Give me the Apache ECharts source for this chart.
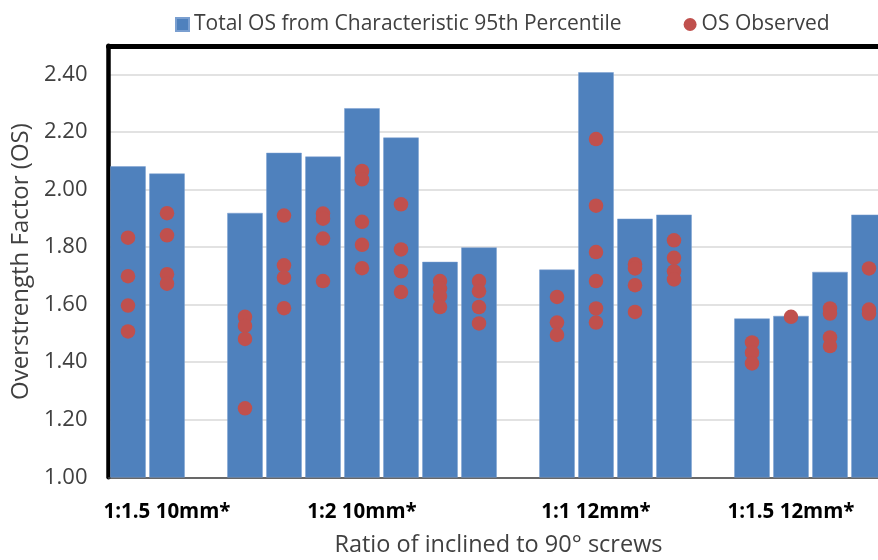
<!DOCTYPE html>
<html>
<head>
<meta charset="utf-8">
<script src="https://cdn.jsdelivr.net/npm/echarts@6/dist/echarts.min.js"></script>
<style>html,body{margin:0;padding:0;background:#fff}#c{width:878px;height:560px}</style>
</head>
<body>
<div id="c"></div>
<script>
// 20 category slots; null = empty gap slot between groups
const groupLabels = ['1:1.5 10mm*', '1:2 10mm*', '1:1 12mm*', '1:1.5 12mm*'];
const labelSlots = [1, 6, 12, 17];
const barValues = [2.081, 2.056, null, 1.919, 2.128, 2.115, 2.283, 2.181, 1.749, 1.799,
                   null, 1.722, 2.408, 1.899, 1.913, null, 1.552, 1.561, 1.714, 1.913];
const observed = [
  [1.833, 1.699, 1.597, 1.507],
  [1.918, 1.841, 1.706, 1.673],
  [],
  [1.558, 1.526, 1.481, 1.240],
  [1.910, 1.737, 1.694, 1.588],
  [1.917, 1.899, 1.830, 1.682],
  [2.065, 2.036, 1.888, 1.808, 1.727],
  [1.949, 1.792, 1.716, 1.644],
  [1.682, 1.656, 1.630, 1.592],
  [1.682, 1.647, 1.592, 1.535],
  [],
  [1.627, 1.538, 1.495],
  [2.176, 1.944, 1.783, 1.682, 1.587, 1.538],
  [1.741, 1.726, 1.668, 1.575],
  [1.824, 1.763, 1.716, 1.688],
  [],
  [1.469, 1.433, 1.396],
  [1.558],
  [1.587, 1.569, 1.486, 1.456],
  [1.726, 1.583, 1.569]
];
const yTicks = { min: 1.0, max: 2.5, interval: 0.2 };

const categories = barValues.map((v, i) => {
  const k = labelSlots.indexOf(i);
  return k >= 0 ? groupLabels[k] : '';
});
const scatterData = [];
observed.forEach((arr, i) => arr.forEach(v => scatterData.push([i, v])));

const font = '"Open Sans", Lato, sans-serif';
const chart = echarts.init(document.getElementById('c'));
chart.setOption({
  animation: false,
  textStyle: { fontFamily: font },
  legend: {
    left: 170, top: 9, itemWidth: 13, itemHeight: 13, itemGap: 62,
    textStyle: { fontSize: 21, color: '#404040', fontFamily: font },
    data: [
      { name: 'Total OS from Characteristic 95th Percentile', icon: 'rect' },
      { name: 'OS Observed', icon: 'circle' }
    ]
  },
  grid: { left: 108.5, top: 45.8, width: 780, height: 431.5, outerBoundsMode: 'none', containLabel: false },
  xAxis: [{
    type: 'category', data: categories, boundaryGap: true,
    axisLine: { lineStyle: { color: '#404040', width: 1.5 } },
    axisTick: { show: false },
    axisLabel: { interval: 0, margin: 24, fontSize: 20.5, fontWeight: 'bold', color: '#000', fontFamily: font },
    name: 'Ratio of inclined to 90° screws', nameLocation: 'middle', nameGap: 56,
    nameTextStyle: { fontSize: 23.5, color: '#404040', fontFamily: font }
  }, {
    type: 'category', data: categories, position: 'top',
    axisLine: { lineStyle: { color: '#000', width: 5 } },
    axisTick: { show: false }, axisLabel: { show: false }
  }],
  yAxis: {
    type: 'value', min: yTicks.min, max: yTicks.max, interval: yTicks.interval,
    axisLine: { show: true, lineStyle: { color: '#000', width: 4.5 } },
    axisTick: { show: false },
    splitLine: { lineStyle: { color: '#d9d9d9', width: 1.5 } },
    axisLabel: { margin: 21, fontSize: 22, color: '#404040', fontFamily: font,
      formatter: v => v > 2.45 ? '' : v.toFixed(2) },
    name: 'Overstrength Factor (OS)', nameLocation: 'middle', nameGap: 72, nameRotate: 90,
    nameTextStyle: { fontSize: 24, color: '#404040', fontFamily: font }
  },
  series: [{
    name: 'Total OS from Characteristic 95th Percentile', type: 'bar',
    data: barValues, barCategoryGap: '9%',
    itemStyle: { color: '#4f81bd', borderColor: '#7a9fd0', borderWidth: 0.5 }
  }, {
    name: 'OS Observed', type: 'scatter', data: scatterData,
    symbol: 'circle', symbolSize: 14.5, itemStyle: { color: '#c0504d', opacity: 1 }, z: 3
  }]
});
</script>
</body>
</html>
